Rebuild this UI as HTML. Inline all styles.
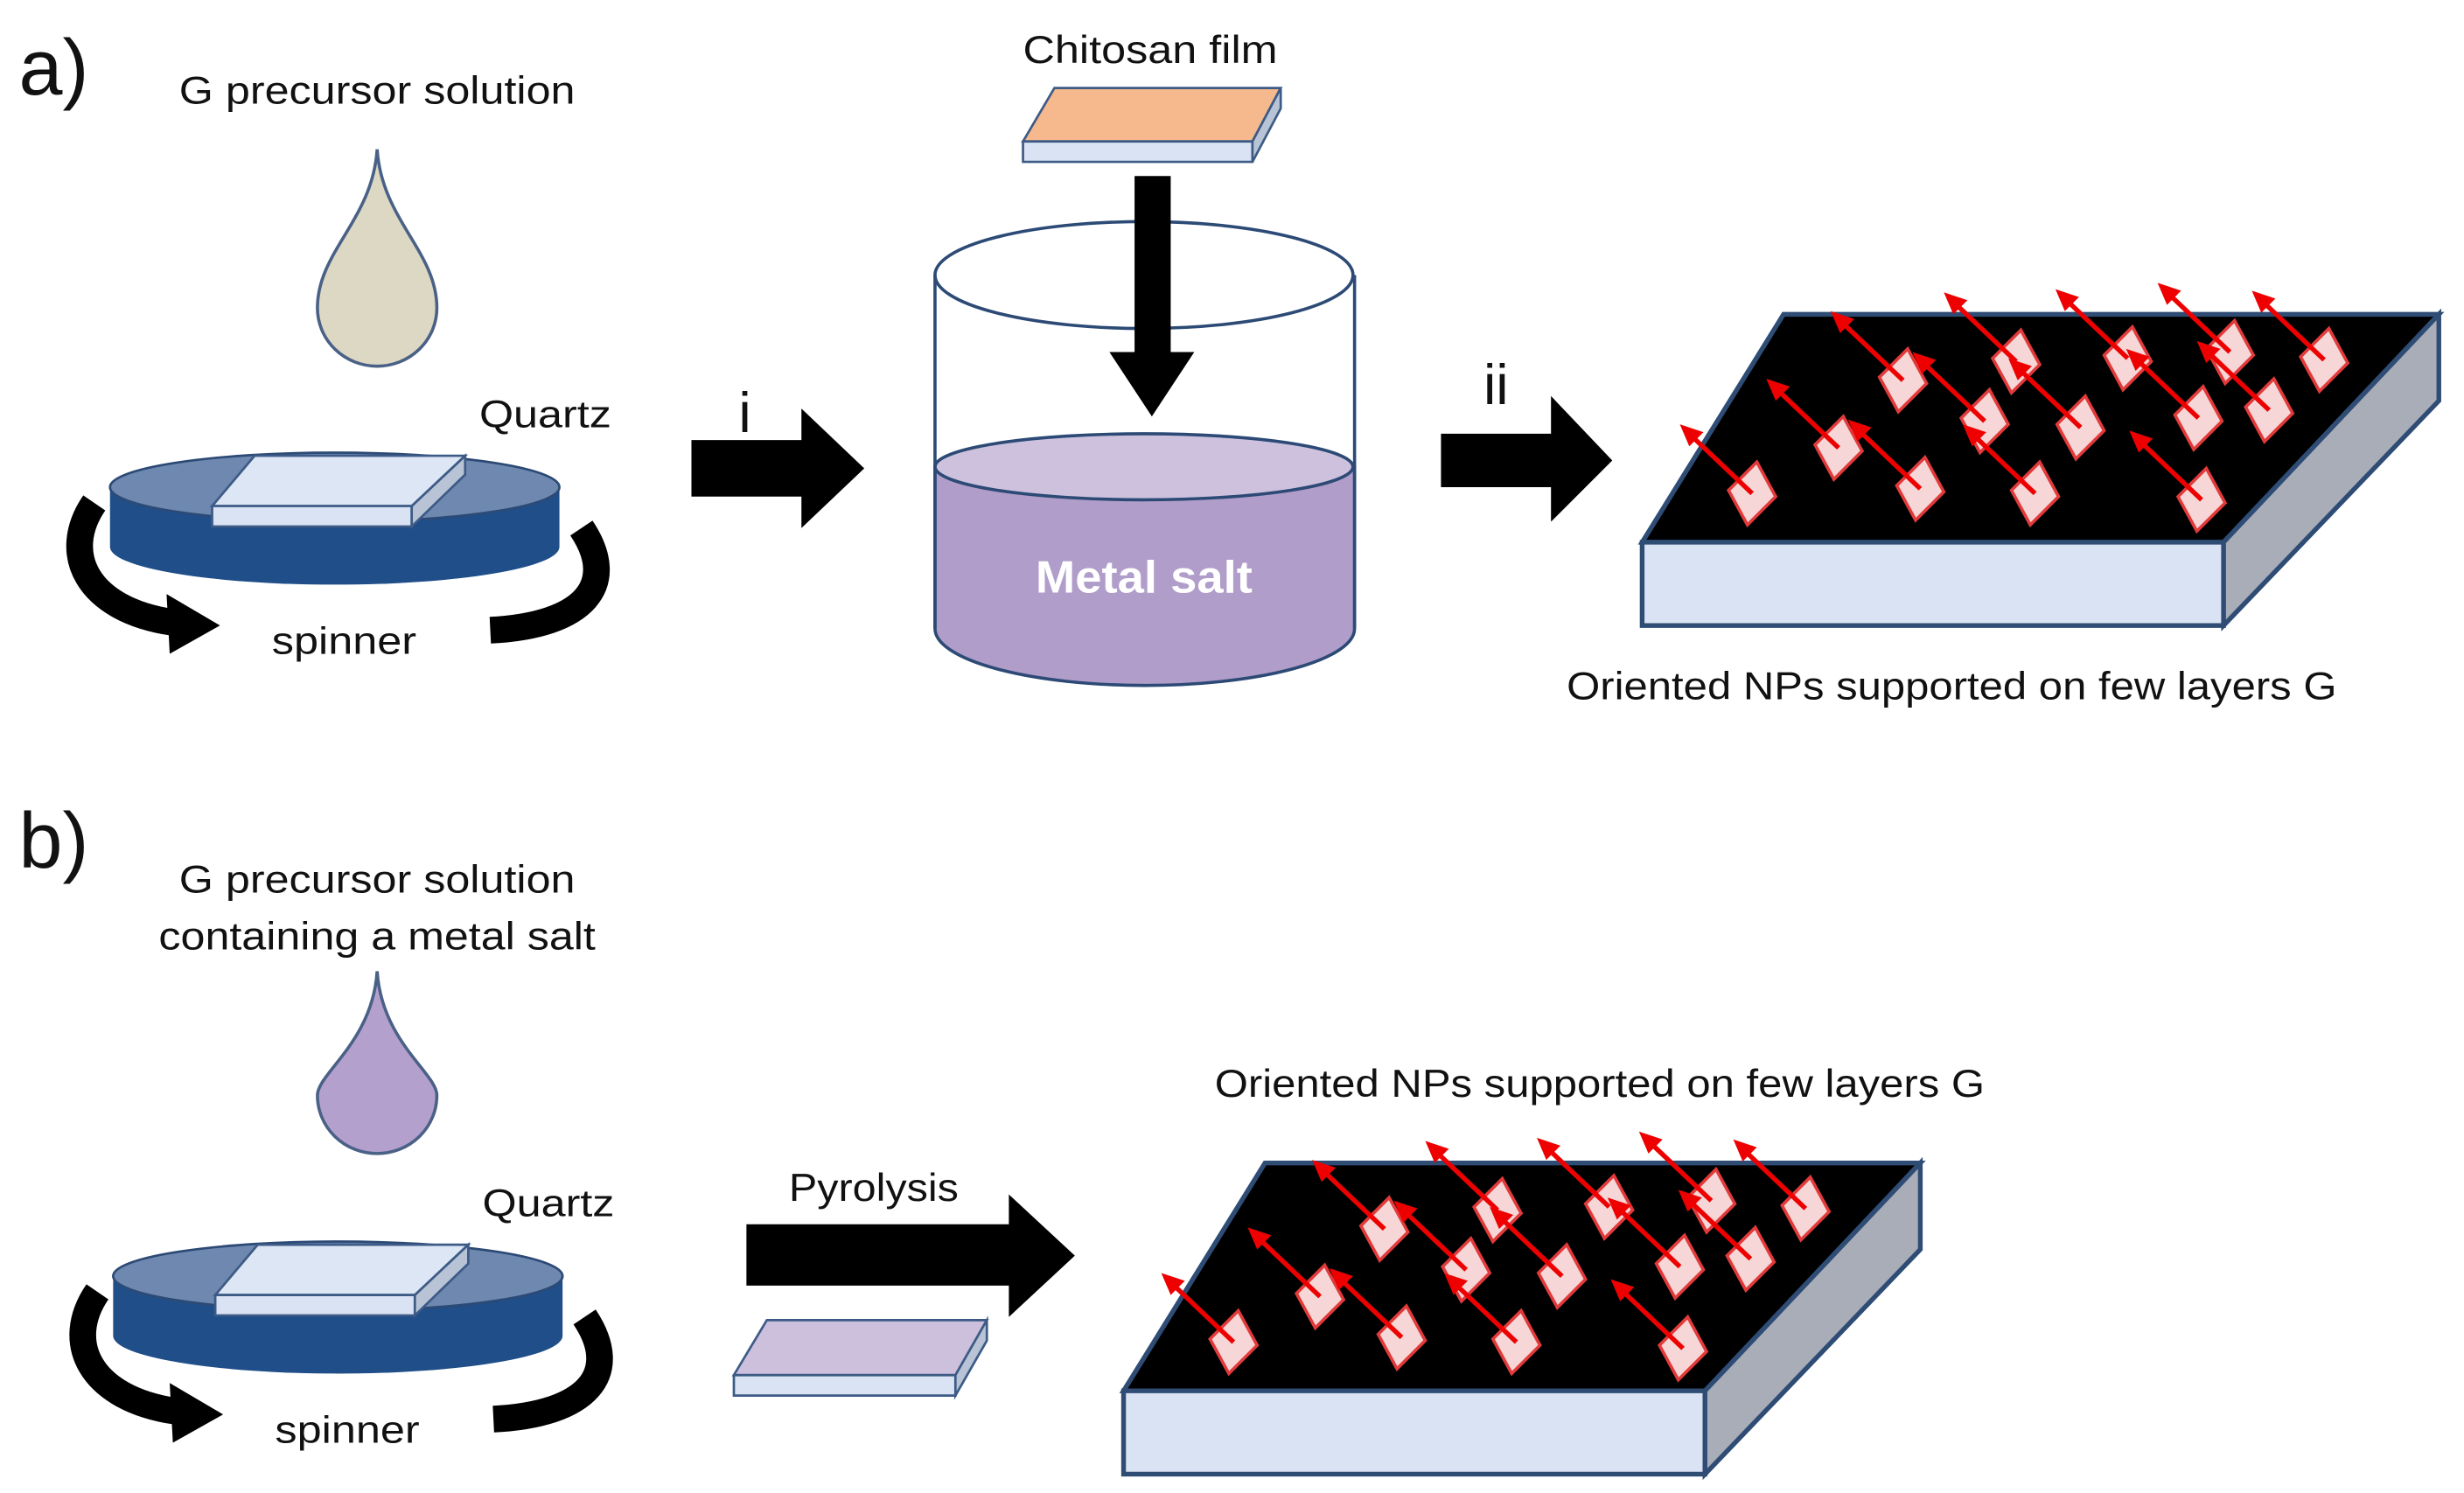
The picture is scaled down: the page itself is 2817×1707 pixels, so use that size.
<!DOCTYPE html>
<html><head><meta charset="utf-8"><style>
html,body{margin:0;padding:0;background:#fff;}
svg{display:block;}
text{font-family:"Liberation Sans",sans-serif;fill:#111;}
</style></head><body>
<svg width="2817" height="1707" viewBox="0 0 1568 950" preserveAspectRatio="none" xmlns="http://www.w3.org/2000/svg">
<defs>
  <g id="spin">
    <path d="M60,320 C38,352 55,388 110,396" fill="none" stroke="#000" stroke-width="17"/>
    <polygon points="106,378 140,398 108,416" fill="#000"/>
    <path d="M370,336 C394,372 372,398 312,401" fill="none" stroke="#000" stroke-width="17"/>
    <path d="M70,310 L70,348 A143,24 0 0 0 356,348 L356,310 Z" fill="#1f4e89"/>
    <ellipse cx="213" cy="310" rx="143" ry="22" fill="#6e88b0" stroke="#2c4a75" stroke-width="1.5"/>
    <polygon points="135,322 162,290 296,290 262,322" fill="#dde6f4" stroke="#3d5b86" stroke-width="1.5"/>
    <polygon points="135,322 262,322 262,335 135,335" fill="#dae3f3" stroke="#3d5b86" stroke-width="1.5"/>
    <polygon points="262,322 296,290 296,302 262,335" fill="#b8c4d6" stroke="#3d5b86" stroke-width="1.5"/>
    <text x="305" y="272" font-size="24" textLength="84" lengthAdjust="spacingAndGlyphs">Quartz</text>
    <text x="173" y="416" font-size="24" textLength="92" lengthAdjust="spacingAndGlyphs">spinner</text>
  </g>
  <g id="np">
    <polygon points="3,-20 15,2 -3,20 -15,-2" fill="#f6d6d6" stroke="#e23a3a" stroke-width="2"/>
    <line x1="0" y1="0" x2="-40" y2="-38" stroke="#e00" stroke-width="3"/>
    <polygon points="-46,-44 -31,-39 -40,-30" fill="#e00"/>
  </g>
  <g id="nps">
    <use href="#np" x="953" y="770"/><use href="#np" x="1024" y="768"/><use href="#np" x="1089" y="764"/><use href="#np" x="1149" y="769"/>
    <use href="#np" x="881" y="782"/><use href="#np" x="933" y="808"/><use href="#np" x="994" y="812"/><use href="#np" x="1069" y="806"/><use href="#np" x="1114" y="801"/>
    <use href="#np" x="840" y="825"/><use href="#np" x="785" y="854"/><use href="#np" x="892" y="851"/><use href="#np" x="965" y="854"/><use href="#np" x="1071" y="858"/>
  </g>
  <g id="slab">
    <polygon points="715,885 805,740 1222,740 1085,885" fill="#000" stroke="#2f4c75" stroke-width="3"/>
    <polygon points="715,885 1085,885 1085,938 715,938" fill="#dae3f3" stroke="#2f4c75" stroke-width="3"/>
    <polygon points="1085,885 1222,740 1222,795 1085,938" fill="#a9adb8" stroke="#2f4c75" stroke-width="3"/>
  </g>
</defs>

<text x="12" y="60" font-size="50">a)</text>
<text x="240" y="66" font-size="25" text-anchor="middle" textLength="252" lengthAdjust="spacingAndGlyphs">G precursor solution</text>
<path d="M240,95 C243,140 278,160 278,196 A38,37 0 0 1 202,196 C202,160 237,140 240,95 Z" fill="#ddd8c3" stroke="#4a6187" stroke-width="2"/>
<use href="#spin"/>

<text x="470" y="275" font-size="36">i</text>
<polygon points="440,280 510,280 510,260 550,298 510,336 510,316 440,316" fill="#000"/>

<text x="732" y="40" font-size="25" text-anchor="middle" textLength="162" lengthAdjust="spacingAndGlyphs">Chitosan film</text>
<polygon points="651,90 671,56 815,56 797,90" fill="#f6b98d" stroke="#3d5b86" stroke-width="1.5"/>
<polygon points="651,90 797,90 797,103 651,103" fill="#dae3f3" stroke="#3d5b86" stroke-width="1.5"/>
<polygon points="797,90 815,56 815,69 797,103" fill="#b8c4d6" stroke="#3d5b86" stroke-width="1.5"/>

<path d="M595,297 L595,400 A133,36 0 0 0 862,400 L862,297 Z" fill="#b09dc9" stroke="#2c4a75" stroke-width="2"/>
<ellipse cx="728" cy="297" rx="133" ry="21" fill="#cdc1de" stroke="#2c4a75" stroke-width="2"/>
<line x1="595" y1="175" x2="595" y2="400" stroke="#2c4a75" stroke-width="2"/>
<line x1="862" y1="175" x2="862" y2="400" stroke="#2c4a75" stroke-width="2"/>
<ellipse cx="728" cy="175" rx="133" ry="34" fill="none" stroke="#2c4a75" stroke-width="2"/>
<text x="728" y="377" font-size="29" font-weight="bold" text-anchor="middle" style="fill:#fff" textLength="138" lengthAdjust="spacingAndGlyphs">Metal salt</text>
<polygon points="722,112 745,112 745,224 760,224 733,265 706,224 722,224" fill="#000"/>

<text x="944" y="257" font-size="36">ii</text>
<polygon points="917,276 987,276 987,252 1026,293 987,332 987,310 917,310" fill="#000"/>

<g transform="translate(330,-540)">
  <use href="#slab"/>
  <use href="#nps"/>
</g>
<text x="1242" y="445" font-size="25" text-anchor="middle" textLength="490" lengthAdjust="spacingAndGlyphs">Oriented NPs supported on few layers G</text>

<text x="12" y="552" font-size="50">b)</text>
<text x="240" y="568" font-size="25" text-anchor="middle" textLength="252" lengthAdjust="spacingAndGlyphs">G precursor solution</text>
<text x="240" y="604" font-size="25" text-anchor="middle" textLength="278" lengthAdjust="spacingAndGlyphs">containing a metal salt</text>
<path d="M240,618 C243,663 278,683 278,697 A38,37 0 0 1 202,697 C202,683 237,663 240,618 Z" fill="#b4a0cc" stroke="#4a6187" stroke-width="2"/>
<g transform="translate(2,502)"><use href="#spin"/></g>

<text x="556" y="764" font-size="25" text-anchor="middle" textLength="108" lengthAdjust="spacingAndGlyphs">Pyrolysis</text>
<polygon points="475,779 642,779 642,760 684,799 642,838 642,818 475,818" fill="#000"/>
<polygon points="467,875 488,840 628,840 608,875" fill="#ccc0dd" stroke="#3d5b86" stroke-width="1.5"/>
<polygon points="467,875 608,875 608,888 467,888" fill="#dae3f3" stroke="#3d5b86" stroke-width="1.5"/>
<polygon points="608,875 628,840 628,853 608,888" fill="#b8c4d6" stroke="#3d5b86" stroke-width="1.5"/>

<text x="1018" y="698" font-size="25" text-anchor="middle" textLength="490" lengthAdjust="spacingAndGlyphs">Oriented NPs supported on few layers G</text>
<use href="#slab"/>
<use href="#nps"/>
</svg>
</body></html>
